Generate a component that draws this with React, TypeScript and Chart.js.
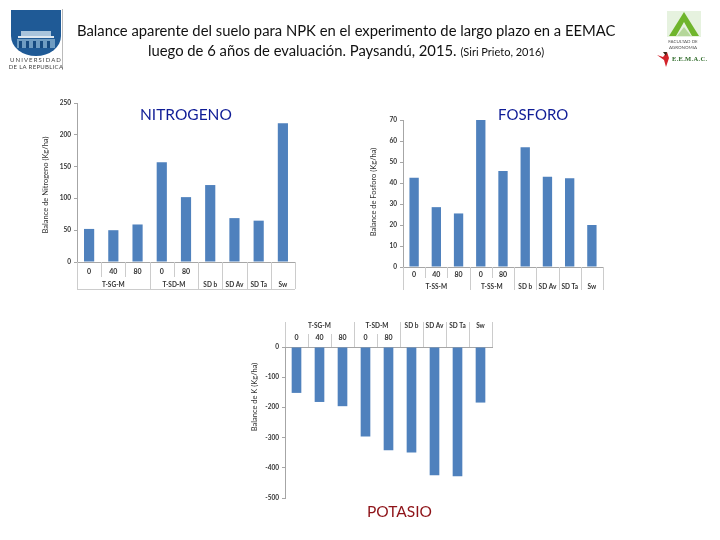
import React, { useEffect, useRef } from "react";
import { Chart, registerables } from "chart.js";

Chart.register(...registerables);

const levelLabels = ["0", "40", "80", "0", "80", "", "", "", ""];
const groupSpans = [3, 2, 1, 1, 1, 1];

const nitrogenValues = [52, 50, 59, 157, 102, 121, 69, 65, 218];
const nitrogenGroups = ["T-SG-M", "T-SD-M", "SD b", "SD Av", "SD Ta", "Sw"];
const phosphorusValues = [42.5, 28.5, 25.5, 70, 45.7, 57, 43, 42.3, 20];
const phosphorusGroups = ["T-SS-M", "T-SS-M", "SD b", "SD Av", "SD Ta", "Sw"];
const potassiumValues = [-152, -182, -196, -296, -342, -349, -425, -428, -184];
const potassiumGroups = ["T-SG-M", "T-SD-M", "SD b", "SD Av", "SD Ta", "Sw"];

const FONT = "Lato, 'Open Sans', sans-serif";
const BAR = "#4F81BD";
const TEXT = "#333333";
const AXIS = "#a6a6a6";
const SEP = "#cccccc";

const multiLevel = {
  id: "multiLevel",
  afterDraw(chart: any) {
    const o = chart.options.plugins.multiLevel;
    const x = chart.scales.x;
    const { ctx } = chart;
    const step = (x.right - x.left) / levelLabels.length;
    const base = o.baseY;
    ctx.save();
    ctx.lineWidth = 1;
    ctx.strokeStyle = SEP;
    let boundaries = [0];
    groupSpans.forEach((s) => boundaries.push(boundaries[boundaries.length - 1] + s));
    for (let i = 0; i <= levelLabels.length; i++) {
      const px = Math.round(x.left + step * i) + 0.5;
      const end = boundaries.includes(i) ? o.outerY : o.innerY;
      ctx.beginPath();
      ctx.moveTo(px, base);
      ctx.lineTo(px, end);
      ctx.stroke();
    }
    if (o.closeLine) {
      ctx.beginPath();
      ctx.moveTo(x.left, o.outerY + 0.5);
      ctx.lineTo(x.right, o.outerY + 0.5);
      ctx.stroke();
    }
    ctx.fillStyle = TEXT;
    ctx.font = `bold 6.5px ${FONT}`;
    ctx.textAlign = "center";
    ctx.textBaseline = "middle";
    o.groups.forEach((g: string, i: number) => {
      const mid = x.left + (step * (boundaries[i] + boundaries[i + 1])) / 2;
      ctx.fillText(g, mid, o.groupY);
    });
    ctx.font = `7.5px ${FONT}`;
    ctx.translate(o.titleX, o.titleY);
    ctx.rotate(-Math.PI / 2);
    ctx.fillText(o.title, 0, 0);
    ctx.restore();
  },
};

function makeChart(canvas: HTMLCanvasElement, c: any) {
  const yW = 30;
  const xH = 18;
  return new Chart(canvas, {
    type: "bar",
    data: {
      labels: levelLabels,
      datasets: [{ data: c.values, backgroundColor: BAR, barPercentage: 0.42, categoryPercentage: 1 }],
    },
    plugins: [multiLevel],
    options: {
      animation: false,
      responsive: false,
      layout: {
        autoPadding: false,
        padding: {
          left: c.left - yW,
          right: 720 - c.right,
          top: c.plotTop - (c.top ? xH : 0),
          bottom: 540 - c.plotBottom - (c.top ? 0 : xH),
        },
      },
      plugins: {
        legend: { display: false },
        tooltip: { enabled: false },
        multiLevel: {
          baseY: c.baseY,
          innerY: c.innerY,
          outerY: c.outerY,
          groupY: c.groupY,
          groups: c.groups,
          title: c.title,
          titleX: c.titleX,
          titleY: c.titleY,
          closeLine: c.closeLine,
        },
      } as any,
      scales: {
        x: {
          position: c.top ? "top" : "bottom",
          afterFit: (s: any) => { s.height = xH; },
          border: { color: AXIS },
          grid: { display: false, drawTicks: false },
          ticks: {
            color: TEXT,
            autoSkip: false,
            maxRotation: 0,
            padding: c.tickPad,
            font: { family: FONT, size: 7, weight: "bold" },
          },
        },
        y: {
          min: c.min,
          max: c.max,
          afterFit: (s: any) => { s.width = yW; },
          border: { color: AXIS },
          grid: { drawOnChartArea: false, tickLength: 3, color: AXIS },
          ticks: {
            stepSize: c.stepSize,
            color: TEXT,
            padding: 3,
            font: { family: FONT, size: 6.5, weight: "bold" },
          },
        },
      },
    } as any,
  });
}

const chartConfigs = [
  {
    values: nitrogenValues, groups: nitrogenGroups, title: "Balance de Nitrogeno (Kg/ha)",
    left: 77, right: 295, plotTop: 103, plotBottom: 262, min: 0, max: 250, stepSize: 50,
    baseY: 262, innerY: 277, outerY: 289, groupY: 285, tickPad: 6, titleX: 46, titleY: 185, closeLine: true,
  },
  {
    values: phosphorusValues, groups: phosphorusGroups, title: "Balance de Fosforo (Kg/ha)",
    left: 403, right: 603, plotTop: 120, plotBottom: 267, min: 0, max: 70, stepSize: 10,
    baseY: 267, innerY: 278, outerY: 290, groupY: 287, tickPad: 4, titleX: 374, titleY: 192,
  },
  {
    values: potassiumValues, groups: potassiumGroups, title: "Balance de K (Kg/ha)", top: true,
    left: 285, right: 492, plotTop: 347, plotBottom: 498, min: -500, max: 0, stepSize: 100,
    baseY: 347, innerY: 334, outerY: 322, groupY: 326, tickPad: 5, titleX: 255, titleY: 397,
  },
];

const abs = (left: number, top: number, extra: React.CSSProperties = {}): React.CSSProperties => ({
  position: "absolute", left, top, fontFamily: FONT, whiteSpace: "nowrap", lineHeight: 1, ...extra,
});

export default function App() {
  const refs = [useRef<HTMLCanvasElement>(null), useRef<HTMLCanvasElement>(null), useRef<HTMLCanvasElement>(null)];
  useEffect(() => {
    document.body.style.margin = "0";
    const charts = chartConfigs.map((c, i) => makeChart(refs[i].current as HTMLCanvasElement, c));
    return () => charts.forEach((c) => c.destroy());
  }, []);
  return (
    <div style={{ position: "relative", width: 720, height: 540, overflow: "hidden", background: "#fff" }}>
      {refs.map((r, i) => (
        <canvas key={i} ref={r} width={720} height={540} style={{ position: "absolute", left: 0, top: 0, width: 720, height: 540, filter: "blur(0.35px)" }} />
      ))}
      <div style={abs(77, 23, { fontSize: 14.8, color: "#111" })}>
        Balance aparente del suelo para NPK en el experimento de largo plazo en a EEMAC
      </div>
      <div style={abs(148, 43, { fontSize: 14.8, color: "#111" })}>
        luego de 6 años de evaluación. Paysandú, 2015<span>.</span>{" "}
        <span style={{ fontSize: 11, letterSpacing: 0 }}>(Siri Prieto, 2016)</span>
      </div>
      <div style={abs(140, 107, { fontSize: 15.5, color: "#0f1c96" })}>NITROGENO</div>
      <div style={abs(498, 107, { fontSize: 15, color: "#0f1c96" })}>FOSFORO</div>
      <div style={abs(367, 504, { fontSize: 15.5, color: "#8e1318" })}>POTASIO</div>

      <svg width={72} height={75} style={{ position: "absolute", left: 0, top: 0 }}>
        <path d="M11 10 H61 V36 A25 20 0 0 1 11 36 Z" fill="#1f5a96" />
        <rect x={21} y={31} width={30} height={5} fill="#a9c4dc" />
        <rect x={18} y={36} width={36} height={2} fill="#dfe8f0" />
        <rect x={17} y={39} width={38} height={9} fill="#6f9cc2" />
        <rect x={19} y={41} width={3} height={7} fill="#164a80" />
        <rect x={26} y={41} width={3} height={7} fill="#164a80" />
        <rect x={33} y={41} width={3} height={7} fill="#164a80" />
        <rect x={40} y={41} width={3} height={7} fill="#164a80" />
        <rect x={47} y={41} width={3} height={7} fill="#164a80" />
        <rect x={62} y={9} width={1} height={61} fill="#bbbbbb" />
        <text x={36} y={62} textAnchor="middle" fontSize={6} letterSpacing={1.1} fill="#444" fontFamily="Lato">UNIVERSIDAD</text>
        <text x={36} y={69} textAnchor="middle" fontSize={6} letterSpacing={0.3} fill="#444" fontFamily="Lato">DE LA REPUBLICA</text>
      </svg>
      <svg width={70} height={75} style={{ position: "absolute", left: 650, top: 0 }}>
        <rect x={17} y={11} width={34} height={26} fill="#e6f2df" />
        <path d="M34 12 L49 36 H42 L34 22 L26 36 H19 Z" fill="#6fb52c" />
        <path d="M27 36 L34 27 L41 36 Z" fill="#b5d79a" />
        <text x={33} y={43} textAnchor="middle" fontSize={4.5} fill="#555" fontFamily="Lato">FACULTAD DE</text>
        <text x={33} y={48.5} textAnchor="middle" fontSize={4.5} fill="#555" fontFamily="Lato">AGRONOMIA</text>
        <path d="M7 55 L13 57 L17 52 L19 58 L16 67 L14 60 Z" fill="#d3232a" />
        <path d="M13 52 L17 52 L16 56 Z" fill="#3a2a1a" />
        <text x={22} y={61} fontSize={6.5} fontWeight="bold" fill="#2f6b2a" fontFamily="'Liberation Serif'" letterSpacing={0.3}>E.E.M.A.C.</text>
      </svg>
    </div>
  );
}
